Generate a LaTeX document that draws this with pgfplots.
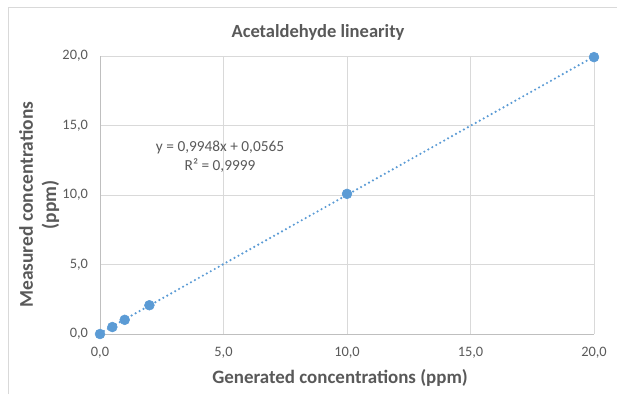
\documentclass[border=0pt]{standalone}
\usepackage{pgfplots}
\pgfplotsset{compat=1.18}
\usepackage{fontspec}
\setmainfont{Carlito}
\definecolor{txt}{HTML}{595959}
\definecolor{grd}{HTML}{D9D9D9}
\definecolor{ax}{HTML}{BFBFBF}
\definecolor{blu}{HTML}{5B9BD5}
\begin{document}
\begin{tikzpicture}
\useasboundingbox (0,0) rectangle (462.75pt,295.5pt);
\draw[grd, line width=0.6pt] (6pt,0) -- (6pt,290.25pt) -- (462.75pt,290.25pt);
\node[txt, font=\fontsize{13.9}{15}\selectfont\bfseries] at (238.5pt,271pt) {Acetaldehyde linearity};
\begin{axis}[
  at={(75pt,45pt)}, anchor=south west,
  scale only axis, width=370.5pt, height=208.5pt,
  xmin=0, xmax=20, ymin=0, ymax=20,
  xtick={0,5,10,15,20}, ytick={0,5,10,15,20},
  grid=major, major grid style={grd, line width=0.6pt},
  axis lines*=left, axis line style={ax, line width=0.6pt, -},
  tick style={draw=none},
  clip=false,
  /pgf/number format/.cd, fixed, fixed zerofill, precision=1, use comma, assume math mode=true,
  /pgfplots/.cd,
  ticklabel style={txt, font=\fontsize{10.8}{12}\selectfont},
  xticklabel style={yshift=-6.5pt},
  yticklabel style={xshift=-5.5pt},
  xlabel={Generated concentrations (ppm)},
  ylabel={Measured concentrations\\(ppm)},
  xlabel style={txt, font=\fontsize{14.2}{16}\selectfont\bfseries, at={(axis description cs:0.486,-0.158)}, anchor=center},
  ylabel style={txt, font=\fontsize{14.6}{17.5}\selectfont\bfseries, align=center, at={(axis description cs:-0.123,0.465)}, anchor=center, rotate=0},
]
\addplot[blu, line width=1.8pt, dash pattern=on 0pt off 3.4pt, line cap=round] coordinates {(0,0.0565) (20,19.9525)};
\addplot[only marks, mark=*, mark size=3.7pt, blu, mark options={draw=blu, fill=blu}] coordinates {
(0,0) (0.5,0.5) (1,1.02) (2,2.07) (10,10.08) (20,19.92)};
\node[txt, font=\fontsize{11.5}{14}\selectfont, align=center] at (axis cs:4.86,12.75) {y = 0,9948x + 0,0565\\R² = 0,9999};
\end{axis}
\end{tikzpicture}
\end{document}
